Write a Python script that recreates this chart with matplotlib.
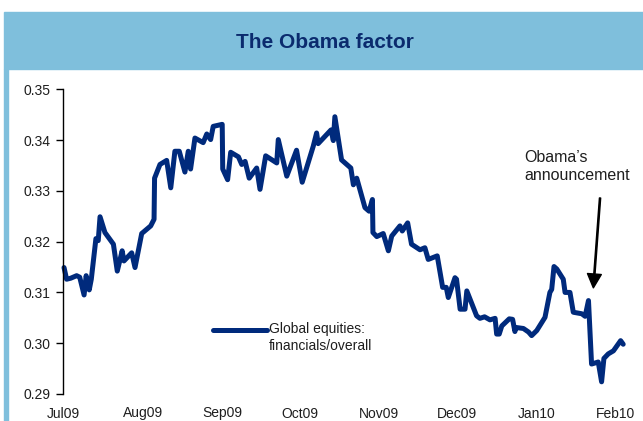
import matplotlib
matplotlib.use("Agg")
import matplotlib.pyplot as plt
from matplotlib.legend_handler import HandlerLine2D
from matplotlib.patches import Rectangle
import pandas as pd

plt.rcParams["font.family"] = ["Liberation Sans", "DejaVu Sans"]

# Financials / overall ratio, global equities (days counted from 1 Jul 2009)
days = [
    0.4, 1.4, 3.0, 5.3, 6.5, 8.2, 9.0, 10.2, 11.0, 12.8, 13.7, 14.4, 16.3,
    19.6, 21.1, 23.0, 23.7, 26.7, 28.0, 30.6, 34.1, 35.4, 35.6, 37.7, 40.3,
    41.9, 43.5, 45.2, 47.4, 48.7, 49.6, 51.3, 54.5, 55.9, 57.4, 58.4, 61.9,
    62.1, 64.0, 65.2, 68.2, 69.5, 70.8, 72.4, 75.3, 76.6, 78.8, 83.1, 83.7,
    87.0, 90.8, 93.0, 97.3, 98.6, 99.2, 104.2, 105.1, 105.7, 108.3, 111.9,
    112.9, 114.2, 117.4, 119.0, 120.3, 120.5, 122.0, 124.5, 126.5, 127.8,
    131.0, 131.9, 134.0, 135.5, 138.8, 140.7, 142.0, 145.5, 147.6, 149.0,
    149.8, 152.4, 153.0, 154.4, 156.3, 157.0, 160.8, 162.1, 163.9, 166.0,
    168.0, 168.6, 169.6, 170.6, 173.5, 174.8, 175.7, 176.1, 179.0, 181.0,
    182.2, 184.2, 187.4, 189.3, 190.0, 190.9, 192.0, 194.5, 195.2, 197.1,
    198.4, 201.7, 203.0, 204.3, 205.5, 208.1, 209.4, 210.3, 212.0, 214.0,
    216.8, 217.8,
]
ratio = [
    0.3149, 0.3126, 0.3128, 0.3133, 0.3130, 0.3095, 0.3133, 0.3105, 0.3126,
    0.3206, 0.3202, 0.3249, 0.3218, 0.3195, 0.3142, 0.3182, 0.3162, 0.3178,
    0.3149, 0.3216, 0.3231, 0.3244, 0.3325, 0.3352, 0.3360, 0.3306, 0.3378,
    0.3378, 0.3337, 0.3378, 0.3343, 0.3404, 0.3395, 0.3412, 0.3401, 0.3427,
    0.3431, 0.3343, 0.3322, 0.3376, 0.3367, 0.3352, 0.3358, 0.3325, 0.3345,
    0.3303, 0.3369, 0.3355, 0.3401, 0.3329, 0.3380, 0.3317, 0.3388, 0.3414,
    0.3393, 0.3420, 0.3399, 0.3446, 0.3361, 0.3345, 0.3312, 0.3325, 0.3267,
    0.3260, 0.3283, 0.3218, 0.3210, 0.3216, 0.3182, 0.3211, 0.3231, 0.3221,
    0.3237, 0.3195, 0.3184, 0.3188, 0.3165, 0.3172, 0.3110, 0.3110, 0.3090,
    0.3129, 0.3126, 0.3067, 0.3067, 0.3103, 0.3054, 0.3049, 0.3052, 0.3046,
    0.3049, 0.3018, 0.3018, 0.3034, 0.3048, 0.3047, 0.3023, 0.3031, 0.3029,
    0.3022, 0.3015, 0.3025, 0.3051, 0.3100, 0.3106, 0.3151, 0.3146, 0.3126,
    0.3100, 0.3100, 0.3061, 0.3058, 0.3053, 0.3084, 0.2959, 0.2963, 0.2924,
    0.2970, 0.2979, 0.2985, 0.3005, 0.2998,
]
month_starts = ["2009-07-01", "2009-08-01", "2009-09-01", "2009-10-01",
                "2009-11-01", "2009-12-01", "2010-01-01", "2010-02-01"]
month_labels = ["Jul09", "Aug09", "Sep09", "Oct09", "Nov09", "Dec09",
                "Jan10", "Feb10"]
yticks = [0.29, 0.30, 0.31, 0.32, 0.33, 0.34, 0.35]

# announcement arrow: tail and tip (days, ratio)
arrow_tail = (208.8, 0.3286)
arrow_tip = (206.2, 0.3109)

NAVY = "#002a7c"
TITLE_BLUE = "#0b2b6e"
BAR_BLUE = "#7fbfdc"
INK = "#1e1e1e"


class TopLineHandler(HandlerLine2D):
    """Legend line that sits level with the first row of a two-line label."""

    def create_artists(self, legend, orig_handle, xdescent, ydescent,
                       width, height, fontsize, trans):
        artists = super().create_artists(legend, orig_handle, xdescent,
                                         ydescent, width, height, fontsize,
                                         trans)
        for a in artists:
            a.set_ydata([y + 0.6 * fontsize for y in a.get_ydata()])
        return artists


start = pd.Timestamp("2009-07-01")
dates = start + pd.to_timedelta(days, unit="D")

fig = plt.figure(figsize=(6.43, 4.21), dpi=100)
W, H = 643, 421

# header bar and left border stripe
fig.patches.append(Rectangle((4 / W, 1 - 69 / H), 1 - 4 / W, 57 / H,
                             transform=fig.transFigure, color=BAR_BLUE, zorder=0))
fig.patches.append(Rectangle((4 / W, 0), 4 / W, 1 - 69 / H,
                             transform=fig.transFigure, color=BAR_BLUE, zorder=0))
fig.text(325 / W, 1 - 42 / H, "The Obama factor", ha="center", va="center",
         fontsize=15, fontweight="bold", color=TITLE_BLUE)

ax = fig.add_axes([63 / W, 1 - 394 / H, 571 / W, 304.7 / H])
line, = ax.plot(dates, ratio, color=NAVY, lw=3.6, solid_joinstyle="round",
                solid_capstyle="round", clip_on=False,
                label="Global equities:\nfinancials/overall")

ax.set_xlim(start, start + pd.Timedelta(days=222))
ax.set_ylim(0.29, 0.35)
ax.set_yticks(yticks)
ax.set_yticklabels([f"{v:.2f}" for v in yticks])
ax.set_xticks(pd.to_datetime(month_starts))
ax.set_xticklabels(month_labels)

for side in ("top", "right", "bottom"):
    ax.spines[side].set_visible(False)
ax.spines["left"].set_linewidth(1.0)
ax.spines["left"].set_color("black")
ax.tick_params(axis="y", direction="out", length=5, width=1, pad=4,
               labelsize=10, labelcolor=INK)
ax.tick_params(axis="x", length=0, pad=9, labelsize=10, labelcolor=INK)

ax.legend(loc="upper left", bbox_to_anchor=(0.2627, 0.235), frameon=False,
          fontsize=10, handlelength=3.9, handletextpad=0.15, borderpad=0,
          borderaxespad=0, labelcolor=INK,
          handler_map={line: TopLineHandler()})

tail = (start + pd.Timedelta(days=arrow_tail[0]), arrow_tail[1])
tip = (start + pd.Timedelta(days=arrow_tip[0]), arrow_tip[1])
ax.annotate("", xy=tip, xytext=tail,
            arrowprops=dict(facecolor="black", edgecolor="black", width=0.9,
                            headwidth=10, headlength=10, shrink=0))
ax.text(start + pd.Timedelta(days=179.2), 0.3347, "Obama\u2019s\nannouncement",
        ha="left", va="center", fontsize=11.5, color=INK, linespacing=1.25)

fig.savefig("out.png", dpi=100)
